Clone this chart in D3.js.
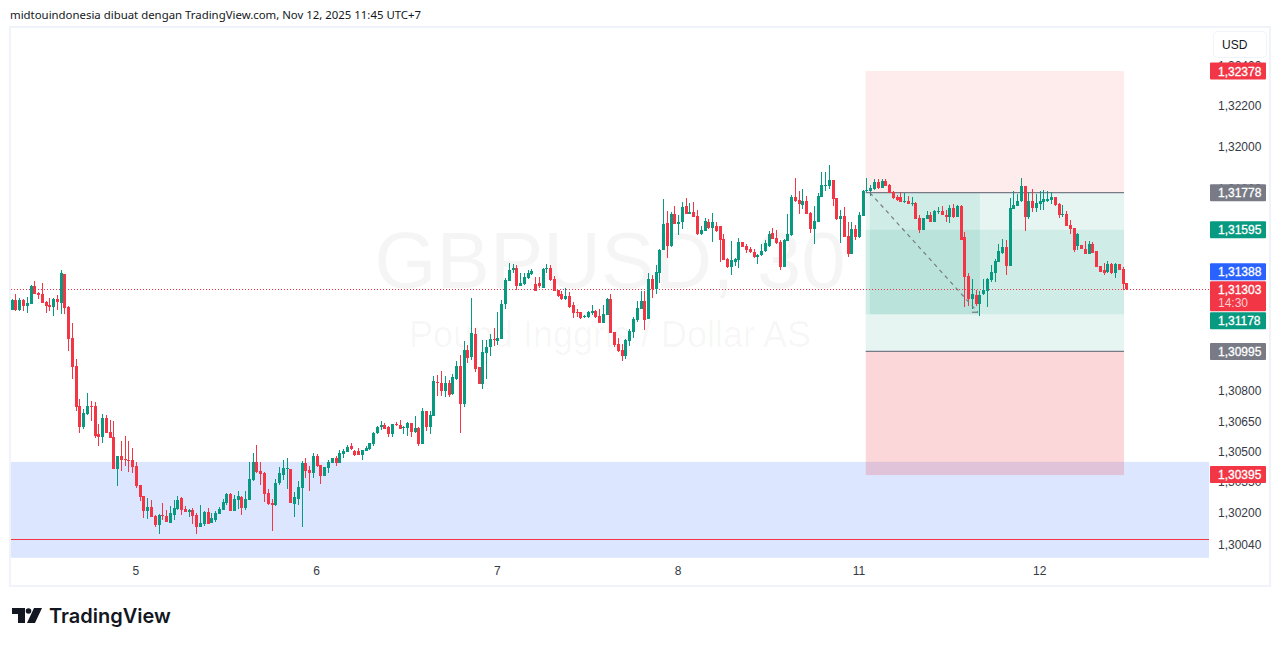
<!DOCTYPE html>
<html>
<head>
<meta charset="utf-8">
<script src="https://cdn.jsdelivr.net/npm/d3@7"></script>
<style>
  html, body { margin: 0; padding: 0; background: #fff; }
  svg { display: block; }
  text { font-family: "Liberation Sans", Arial, sans-serif; }
</style>
</head>
<body>
<svg id="chart" width="1281" height="646"></svg>
<script>
// all candle values are points above 1.30000 (1 point = 0.00001)
const BASE = 1.3;

const opens = [
  1197,1249,1200,1249,1220,1229,1318,1284,1279,1239,
  1225,1215,1254,1234,1377,1215,1062,924,727,623,
  687,727,727,589,574,667,598,574,416,480,
  465,460,460,431,337,283,209,229,184,140,
  189,184,150,189,219,273,219,204,214,189,
  130,145,204,150,165,194,214,248,293,209,
  263,278,224,263,362,450,406,396,298,248,
  239,347,386,416,416,243,268,322,446,411,
  396,480,436,382,421,446,470,446,490,500,
  529,505,505,485,505,515,539,594,623,633,
  623,589,638,633,618,618,643,598,618,539,
  702,623,677,845,840,801,840,786,860,924,
  736,1003,968,1082,919,835,988,1017,1057,1047,
  1057,1229,1343,1397,1407,1318,1328,1358,1377,1328,
  1333,1308,1402,1407,1353,1298,1279,1254,1269,1225,
  1190,1190,1165,1165,1185,1195,1170,1135,1175,1254,
  1091,1032,1002,973,1047,1091,1150,1204,1244,1155,
  1352,1303,1382,1495,1628,1515,1673,1623,1633,1712,
  1673,1683,1663,1574,1589,1633,1604,1614,1614,1550,
  1451,1411,1436,1446,1535,1515,1500,1485,1461,1471,
  1490,1515,1579,1554,1535,1411,1540,1569,1757,1742,
  1717,1737,1678,1599,1633,1757,1811,1811,1840,1752,
  1648,1663,1564,1476,1599,1559,1663,1786,1786,1796,
  1830,1801,1835,1816,1781,1757,1757,1732,1737,1722,
  1727,1653,1594,1648,1668,1633,1683,1688,1668,1658,
  1702,1658,1712,1559,1367,1254,1273,1229,1278,1293,
  1347,1382,1436,1481,1510,1416,1697,1712,1737,1811,
  1658,1737,1702,1722,1732,1737,1742,1757,1722,1668,
  1673,1619,1604,1515,1520,1500,1476,1525,1490,1416,
  1397,1387,1426,1382,1426,1402,1333
];
const highs = [
  1254,1279,1259,1254,1264,1323,1343,1289,1333,1244,
  1259,1259,1274,1397,1377,1220,1136,958,761,712,
  791,751,746,638,687,682,658,653,480,554,
  579,554,520,450,337,283,273,263,189,194,
  248,214,234,263,283,278,234,219,224,199,
  239,209,224,199,209,229,268,298,298,288,
  308,283,308,450,495,534,450,401,317,268,
  367,426,460,470,416,303,357,455,470,431,
  495,490,436,426,460,470,480,510,515,534,
  544,510,520,510,529,544,598,628,651,643,
  628,638,648,658,628,648,643,677,623,717,
  702,702,875,879,899,875,855,884,948,978,
  1047,1027,1259,1111,919,1052,1052,1082,1111,1190,
  1249,1358,1432,1427,1422,1382,1382,1397,1402,1363,
  1363,1407,1427,1422,1367,1298,1294,1308,1289,1239,
  1205,1190,1175,1195,1224,1200,1204,1224,1259,1278,
  1091,1061,1032,1057,1106,1165,1244,1293,1293,1382,
  1372,1421,1500,1747,1688,1683,1712,1668,1732,1752,
  1727,1732,1692,1614,1653,1648,1678,1633,1614,1574,
  1456,1540,1456,1554,1535,1525,1510,1500,1476,1525,
  1545,1589,1604,1594,1545,1550,1673,1766,1850,1786,
  1796,1761,1683,1712,1776,1880,1880,1914,1840,1752,
  1692,1707,1633,1633,1619,1683,1791,1850,1816,1845,
  1845,1845,1845,1821,1786,1766,1781,1776,1761,1757,
  1732,1668,1653,1688,1683,1692,1707,1712,1692,1717,
  1722,1717,1717,1584,1382,1352,1298,1293,1352,1357,
  1421,1451,1525,1550,1545,1752,1786,1771,1850,1811,
  1781,1796,1771,1786,1791,1786,1781,1757,1727,1717,
  1688,1643,1604,1579,1520,1540,1540,1535,1490,1416,
  1431,1441,1431,1431,1426,1411,1333
];
const lows = [
  1197,1192,1192,1195,1182,1229,1279,1254,1234,1185,
  1192,1170,1200,1180,1180,998,860,702,593,613,
  682,653,569,529,544,594,569,416,332,406,
  431,401,396,322,258,174,170,179,130,96,
  165,155,150,165,214,189,204,179,145,96,
  130,135,145,150,155,194,214,239,209,209,
  219,189,214,263,357,396,337,253,239,110,
  234,337,362,317,248,179,239,130,372,308,
  372,426,342,382,396,446,431,446,470,500,
  510,480,485,460,505,510,529,589,608,613,
  574,574,628,613,589,579,574,594,529,539,
  603,589,677,776,776,771,771,781,855,593,
  722,939,953,894,835,810,860,973,1022,1027,
  1057,1205,1343,1382,1298,1318,1323,1353,1372,1294,
  1308,1308,1382,1343,1294,1264,1249,1249,1210,1160,
  1165,1155,1160,1160,1175,1160,1135,1135,1175,1086,
  1017,992,948,958,1022,1061,1140,1204,1101,1155,
  1259,1278,1333,1495,1456,1510,1623,1569,1599,1673,
  1673,1658,1569,1569,1589,1599,1535,1584,1436,1446,
  1407,1372,1416,1407,1510,1481,1481,1456,1426,1466,
  1485,1510,1550,1525,1397,1411,1540,1564,1732,1673,
  1697,1673,1579,1525,1633,1757,1786,1796,1712,1643,
  1530,1559,1461,1476,1545,1554,1663,1781,1761,1791,
  1796,1801,1811,1776,1747,1737,1732,1727,1722,1712,
  1648,1579,1594,1648,1633,1633,1673,1668,1633,1628,
  1653,1658,1545,1214,1219,1204,1219,1170,1273,1214,
  1338,1338,1436,1476,1372,1416,1697,1712,1732,1589,
  1648,1683,1683,1692,1692,1732,1722,1712,1653,1658,
  1614,1574,1485,1495,1500,1476,1476,1481,1411,1387,
  1372,1382,1377,1357,1397,1298,1298
];
const closes = [
  1249,1200,1249,1220,1234,1318,1279,1274,1234,1220,
  1215,1254,1239,1382,1210,1057,919,722,623,692,
  727,722,579,574,667,594,569,416,480,460,
  460,455,426,332,278,209,229,179,140,189,
  184,155,199,224,263,214,204,214,184,130,
  150,204,145,174,199,219,253,293,209,268,
  283,224,268,367,450,401,391,293,243,239,
  347,396,421,421,248,278,327,446,406,396,
  480,431,382,426,450,470,446,495,505,525,
  515,485,485,510,520,544,594,623,633,613,
  589,638,633,613,623,643,598,618,539,702,
  623,682,850,840,801,840,781,870,924,736,
  1003,963,1087,909,835,993,1017,1057,1052,1062,
  1229,1346,1397,1407,1318,1333,1363,1382,1392,1294,
  1318,1402,1407,1348,1294,1269,1254,1269,1215,1185,
  1185,1160,1170,1190,1195,1165,1135,1180,1254,1086,
  1027,997,973,1052,1096,1155,1209,1244,1150,1352,
  1303,1387,1495,1623,1515,1673,1623,1633,1707,1673,
  1683,1658,1574,1594,1638,1604,1633,1589,1545,1446,
  1411,1446,1451,1535,1510,1495,1485,1461,1471,1490,
  1530,1574,1550,1530,1411,1545,1574,1757,1737,1722,
  1737,1673,1599,1638,1761,1816,1816,1840,1747,1648,
  1663,1559,1476,1599,1559,1668,1786,1791,1801,1830,
  1801,1835,1811,1776,1752,1742,1732,1737,1722,1727,
  1648,1594,1653,1668,1633,1688,1688,1668,1658,1702,
  1658,1712,1545,1362,1254,1278,1229,1273,1298,1352,
  1387,1441,1490,1510,1416,1702,1717,1737,1811,1658,
  1737,1702,1727,1737,1747,1747,1757,1717,1668,1673,
  1614,1599,1495,1574,1500,1476,1525,1481,1411,1387,
  1382,1426,1382,1426,1397,1328,1303
];

const dayLabels = ['5', '6', '7', '8', '11', '12'];
const dayStarts = [33, 81, 129, 177, 225, 273];
const priceTicks = [1.324, 1.322, 1.32, 1.318, 1.308, 1.3065, 1.305, 1.3035, 1.302, 1.3004];

// price levels of the drawings on the chart
const stopTop = 1.32378, entryTop = 1.31778, targetTop = 1.31595;
const targetBottom = 1.31178, entryBottom = 1.30995, stopBottom = 1.30385;
const demandTop = 1.3045, demandBottom = 1.29977, demandLine = 1.30068;
const lastPrice = 1.31303;
const tagPrices = [1.32378, 1.31778, 1.31595, 1.31388, 1.31303, 1.31178, 1.30995, 1.30395];
const tagKinds = ['red', 'grey', 'green', 'blue', 'red', 'green', 'grey', 'red'];
const positionBars = [226.8, 295.4];
const highlightBars = [227.9, 257.1];

const GREEN = '#089981', RED = '#f23645', GREY = '#787b86', BLUE = '#2962ff';
const tagColors = { red: RED, grey: GREY, green: GREEN, blue: BLUE };

const svg = d3.select('#chart');

const x = d3.scaleLinear().domain([0, opens.length - 1]).range([11.7, 1126.3]);
const y = d3.scaleLinear().domain([1.32378, 1.3004]).range([71, 545]);
const fmt = d => d3.format('.5f')(d).replace('.', ',');

// frame
svg.append('rect')
  .attr('x', 10).attr('y', 27)
  .attr('width', 1260).attr('height', 559)
  .attr('fill', '#fff')
  .attr('stroke', '#f0f3fa')
  .attr('stroke-width', 2);

// watermark
const wm = svg.append('g').attr('fill', '#000').attr('fill-opacity', 0.04).attr('text-anchor', 'middle');
wm.append('text').attr('x', 610).attr('y', 288).attr('font-size', 80).text('GBPUSD, 30');
wm.append('text').attr('x', 610).attr('y', 347).attr('font-size', 36).text('Pound Inggris / Dollar AS');

// demand zone
svg.append('rect')
  .attr('x', 11).attr('width', 1198)
  .attr('y', y(demandTop)).attr('height', y(demandBottom) - y(demandTop))
  .attr('fill', '#dce6fe');
svg.append('line')
  .attr('x1', 11).attr('x2', 1209)
  .attr('y1', Math.round(y(demandLine)) + 0.5).attr('y2', Math.round(y(demandLine)) + 0.5)
  .attr('stroke', RED);

// long/short position boxes
const px = x(positionBars[0]), pw = x(positionBars[1]) - px;
function zone(top, bottom, color, opacity, left, width) {
  svg.append('rect')
    .attr('x', left).attr('width', width)
    .attr('y', y(top)).attr('height', y(bottom) - y(top))
    .attr('fill', color).attr('fill-opacity', opacity);
}
zone(stopTop, entryTop, RED, 0.1, px, pw);
zone(entryTop, entryBottom, GREEN, 0.1, px, pw);
zone(targetTop, targetBottom, GREEN, 0.1, px, pw);
zone(entryBottom, stopBottom, RED, 0.2, px, pw);
zone(entryTop, targetBottom, GREEN, 0.1, x(highlightBars[0]), x(highlightBars[1]) - x(highlightBars[0]));

[entryTop, entryBottom].forEach(p => {
  svg.append('line')
    .attr('x1', px).attr('x2', px + pw)
    .attr('y1', y(p)).attr('y2', y(p))
    .attr('stroke', GREY).attr('stroke-width', 1.2);
});

// last price line
svg.append('line')
  .attr('x1', 11).attr('x2', 1209)
  .attr('y1', Math.round(y(lastPrice)) + 0.5).attr('y2', Math.round(y(lastPrice)) + 0.5)
  .attr('stroke', RED)
  .attr('stroke-dasharray', '1 2');

// candles
const candles = d3.range(opens.length);
const up = i => closes[i] >= opens[i];
const py = v => y(BASE + v / 1e5);

const g = svg.append('g').attr('class', 'candles');
g.selectAll('rect.wick').data(candles).enter().append('rect')
  .attr('class', 'wick')
  .attr('x', i => Math.round(x(i)))
  .attr('width', 1)
  .attr('y', i => Math.round(py(highs[i])))
  .attr('height', i => Math.max(1, Math.round(py(lows[i])) - Math.round(py(highs[i]))))
  .attr('fill', i => up(i) ? GREEN : RED);
g.selectAll('rect.body').data(candles).enter().append('rect')
  .attr('class', 'body')
  .attr('x', i => Math.round(x(i)) - 1)
  .attr('width', 3)
  .attr('y', i => Math.round(py(Math.max(opens[i], closes[i]))))
  .attr('height', i => Math.max(1, Math.round(py(Math.min(opens[i], closes[i]))) - Math.round(py(Math.max(opens[i], closes[i])))))
  .attr('fill', i => up(i) ? GREEN : RED);

// dashed trend arrow
const arrow = [[227.9, entryTop], [256.6, 1.31188]];
svg.append('line')
  .attr('x1', x(arrow[0][0])).attr('y1', y(arrow[0][1]))
  .attr('x2', x(arrow[1][0])).attr('y2', y(arrow[1][1]))
  .attr('stroke', GREY).attr('stroke-width', 1.2)
  .attr('stroke-dasharray', '4 4');
svg.append('line')
  .attr('x1', x(arrow[1][0]) - 6).attr('y1', y(arrow[1][1]))
  .attr('x2', x(arrow[1][0])).attr('y2', y(arrow[1][1]))
  .attr('stroke', GREY).attr('stroke-width', 1.2);

// axes
const yAxis = d3.axisRight(y).tickValues(priceTicks).tickFormat(fmt).tickSize(0).tickPadding(0);
const yG = svg.append('g').attr('transform', 'translate(1218,0)').call(yAxis);
yG.select('.domain').remove();
yG.selectAll('text').attr('font-size', 12).attr('fill', '#363a45')
  .attr('y', d => d > 1.319 ? -1 : 0)
  .style('font-family', '"Liberation Sans", Arial, sans-serif');

const xAxis = d3.axisBottom(x)
  .tickValues(dayStarts)
  .tickFormat((d, i) => dayLabels[i])
  .tickSize(0).tickPadding(8);
const xG = svg.append('g').attr('transform', 'translate(-0.5,558)').call(xAxis);
xG.select('.domain').remove();
xG.selectAll('text').attr('font-size', 12).attr('fill', '#363a45')
  .style('font-family', '"Liberation Sans", Arial, sans-serif');

// price tags, pushed down when they would overlap
let prevBottom = 0;
tagPrices.forEach((p, i) => {
  const h = p === lastPrice ? 30 : 17;
  const top = Math.max(y(p) - 8.5, prevBottom + 1) + (i === tagPrices.length - 1 ? 1.5 : 0);
  prevBottom = top + h;
  svg.append('rect')
    .attr('x', 1210).attr('width', 56)
    .attr('y', top).attr('height', h)
    .attr('rx', 1)
    .attr('fill', tagColors[tagKinds[i]]);
  svg.append('text')
    .attr('x', 1218).attr('y', top + 13)
    .attr('font-size', 12).attr('fill', '#fff')
    .attr('stroke', '#fff').attr('stroke-width', 0.3)
    .text(fmt(p));
  if (p === lastPrice) {
    svg.append('text')
      .attr('x', 1218).attr('y', top + 26)
      .attr('font-size', 12).attr('fill', '#fff').attr('fill-opacity', 0.75)
      .text('14:30');
  }
});

// currency button
svg.append('rect')
  .attr('x', 1213.5).attr('y', 31.5)
  .attr('width', 53).attr('height', 26)
  .attr('rx', 4)
  .attr('fill', '#fff').attr('stroke', '#f0f3fa');
svg.append('text')
  .attr('x', 1222).attr('y', 49)
  .attr('font-size', 12).attr('fill', '#131722')
  .text('USD');

// header + logo
svg.append('text')
  .attr('x', 10).attr('y', 19)
  .attr('font-size', 11.4).attr('fill', '#131722')
  .style('font-family', '"Noto Sans"')
  .text('midtouindonesia dibuat dengan TradingView.com, Nov 12, 2025 11:45 UTC+7');

const logo = svg.append('g').attr('transform', 'translate(12,608)').attr('fill', '#131722');
logo.append('path').attr('d', 'M0 0H13V15H6V6H0Z');
logo.append('circle').attr('cx', 16.5).attr('cy', 3).attr('r', 2.8);
logo.append('path').attr('d', 'M22 0H30L23 15H15Z');
svg.append('text')
  .attr('x', 49).attr('y', 623)
  .attr('font-size', 20).attr('font-weight', 600).attr('fill', '#131722')
  .style('font-family', 'Inter')
  .text('TradingView');
</script>
</body>
</html>
